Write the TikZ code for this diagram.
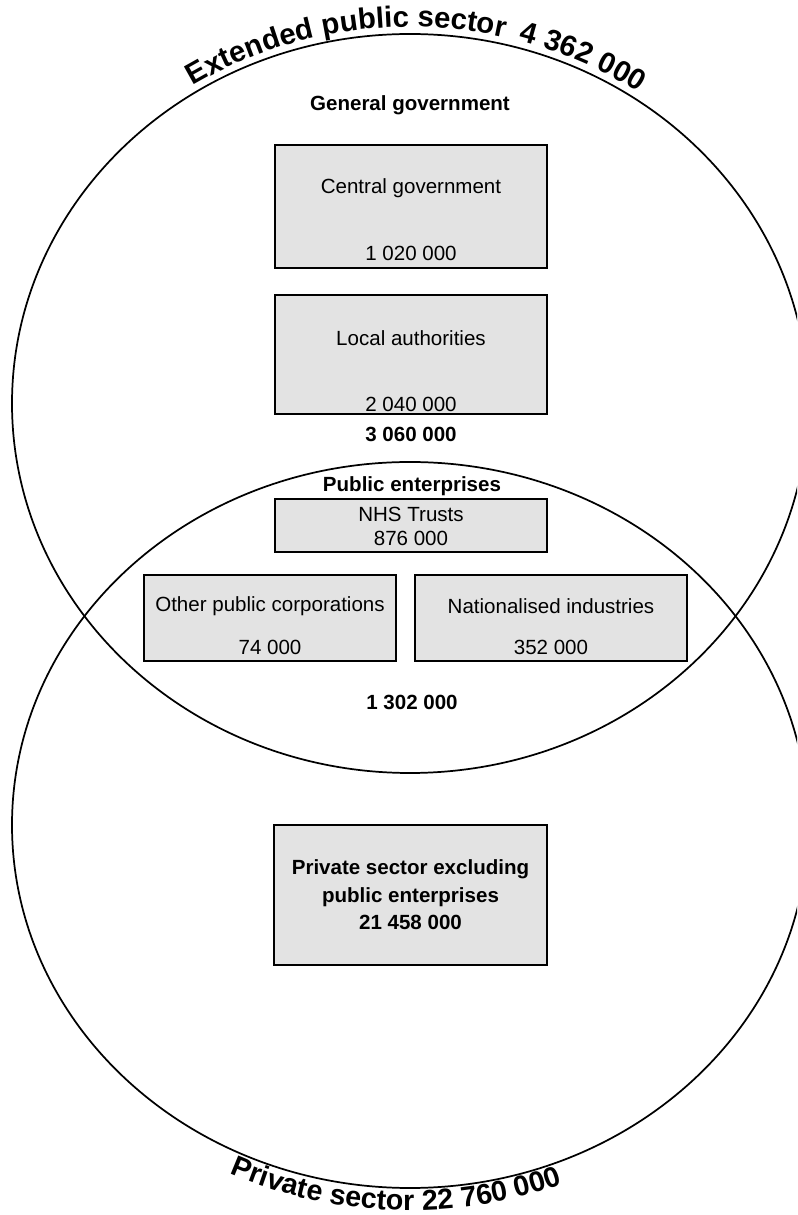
\documentclass[tikz,border=0pt]{standalone}
\usepackage{fontspec}
\setmainfont{Liberation Sans}
\usepackage{tikz}
\usetikzlibrary{decorations.text}
\definecolor{boxGray}{RGB}{227, 227, 227}

\begin{document}
\begin{tikzpicture}[
  x=0.75pt, y=0.75pt,
  sector/.style={draw=black, line width=1.3pt},
  box/.style={rectangle, draw=black, fill=boxGray,
              line width=2pt, inner sep=0pt},
  txt/.style={font=\fontsize{15.4}{18}\selectfont, inner sep=0pt},
  head/.style={font=\fontsize{15.4}{18}\selectfont\bfseries, inner sep=0pt},
  arctext/.style={decorate, decoration={text along path,
              text color=black, text={#1}}}
]
  \clip (0,0) rectangle (797,1215);

  %% The two sectors
  \draw[sector] (410,811.5) ellipse [x radius=398, y radius=369.5];
  \draw[sector] (410,390) ellipse [x radius=398, y radius=363];

  %% Curved titles
  \path[arctext={|\fontsize{22}{26}\selectfont\bfseries|Extended public sector}]
    (410,811.5) ++(122.4:405 and 376.5)
    arc [start angle=122.4, end angle=60, x radius=405, y radius=376.5];
  \path[arctext={|\fontsize{22}{26}\selectfont\bfseries|4 362 000}]
    (410,811.5) ++(74.4:405 and 376.5)
    arc [start angle=74.4, end angle=30, x radius=405, y radius=376.5];
  \path[arctext={|\fontsize{21.5}{25}\selectfont\bfseries|Private sector 22 760 000}]
    (410,390) ++(244.6:420.5 and 385.5)
    arc [start angle=244.6, end angle=315, x radius=420.5, y radius=385.5];

  %% General government
  \node[head] (gg) at (410,1110) {General government};
  \node[box, minimum width=204pt, minimum height=92.25pt] (cg) at (411,1008.5) {};
  \node[txt] (cgname) at (411,1027) {Central government};
  \node[txt] (cgnum)  at (411,962)  {1 020 000};
  \node[box, minimum width=204pt, minimum height=89.25pt] (la) at (411,860.5) {};
  \node[txt] (laname) at (411,877) {Local authorities};
  \node[txt] (lanum)  at (411,811) {2 040 000};
  \node[head] (ggnum) at (411,781) {3 060 000};

  %% Public enterprises
  \node[head] (pe) at (412,729) {Public enterprises};
  \node[box, minimum width=204pt, minimum height=39.75pt] (nhs) at (411,689.5) {};
  \node[txt] (nhsname) at (411,701) {NHS Trusts};
  \node[txt] (nhsnum)  at (411,677) {876 000};
  \node[box, minimum width=189pt, minimum height=64.5pt] (opc) at (270,597) {};
  \node[txt] (opcname) at (270,609) {Other public corporations};
  \node[txt] (opcnum)  at (270,568) {74 000};
  \node[box, minimum width=204pt, minimum height=64.5pt] (ni) at (551,597) {};
  \node[txt] (niname) at (551,609) {Nationalised industries};
  \node[txt] (ninum)  at (551,568) {352 000};
  \node[head] (penum) at (412,513) {1 302 000};

  %% Private sector
  \node[box, minimum width=204.75pt, minimum height=105pt] (ps) at (410.5,320) {};
  \node[head, align=center, font=\fontsize{15.4}{20.6}\selectfont\bfseries] (psname)
    at (410.5,320) {Private sector excluding\\public enterprises\\21 458 000};

\end{tikzpicture}
\end{document}
